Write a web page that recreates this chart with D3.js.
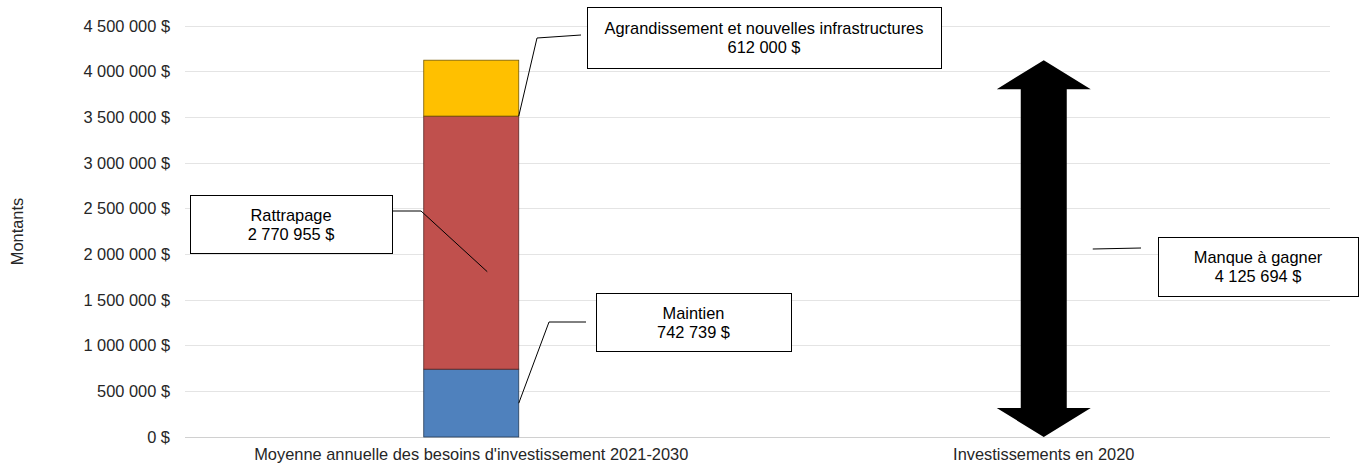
<!DOCTYPE html>
<html lang="fr">
<head>
<meta charset="utf-8" />
<title></title>
<script src="https://d3js.org/d3.v7.min.js"></script>
<style>
  body { margin: 0; background: #fff; }
  svg { display: block; font-family: "Liberation Sans", Arial, sans-serif; }
</style>
</head>
<body>
<script>
// data
var categories = ["Moyenne annuelle des besoins d'investissement 2021-2030", "Investissements en 2020"];
var segments = ["Maintien", "Rattrapage", "Agrandissement et nouvelles infrastructures"];
var segmentValues = [742739, 2770955, 612000];
var segmentColors = ["#4f81bd", "#c0504d", "#ffc000"];
var investissement2020 = 0;
var manque = 4125694;
var yTicks = [0, 500000, 1000000, 1500000, 2000000, 2500000, 3000000, 3500000, 4000000, 4500000];

var W = 1360, H = 468;
var margin = { left: 185, right: 30, top: 26, bottom: 31 };
var fs = 16.4;

var svg = d3.select("body").append("svg").attr("width", W).attr("height", H);

var x = d3.scaleBand().domain(categories).range([margin.left, W - margin.right]);
var y = d3.scaleLinear().domain([0, 4500000]).range([H - margin.bottom, margin.top]);

function fmt(v) { return d3.format(",")(v).replace(/,/g, " ") + " $"; }

// gridlines
svg.append("g").selectAll("line").data(yTicks).enter().append("line")
  .attr("x1", margin.left).attr("x2", W - margin.right)
  .attr("y1", function (d) { return y(d); }).attr("y2", function (d) { return y(d); })
  .attr("stroke", function (d) { return d === 0 ? "#d0d0d0" : "#e4e4e4"; })
  .attr("stroke-width", 1).attr("shape-rendering", "crispEdges");

// y axis labels
var yAxis = d3.axisLeft(y).tickValues(yTicks).tickFormat(fmt).tickSize(0).tickPadding(15);
var ga = svg.append("g").attr("transform", "translate(" + margin.left + ",0)").call(yAxis);
ga.select(".domain").remove();
ga.selectAll("text").attr("font-size", fs).attr("fill", "#262626").style("font-family", "Liberation Sans, Arial, sans-serif");

svg.append("text").attr("transform", "translate(23," + y(2250000) + ") rotate(-90)")
  .attr("text-anchor", "middle").attr("font-size", fs).attr("fill", "#262626").text("Montants");

// x labels
var xAxis = d3.axisBottom(x).tickSize(0).tickPadding(11);
var gx = svg.append("g").attr("transform", "translate(0," + y(0) + ")").call(xAxis);
gx.select(".domain").remove();
gx.selectAll("text").attr("font-size", fs).attr("fill", "#262626").style("font-family", "Liberation Sans, Arial, sans-serif");

// stacked bar
var barW = 95;
var cx0 = x(categories[0]) + x.bandwidth() / 2;
var stack = [];
var acc = 0;
segmentValues.forEach(function (v, i) { stack.push({ name: segments[i], v: v, y0: acc, y1: acc + v, c: segmentColors[i] }); acc += v; });

svg.append("g").selectAll("rect").data(stack).enter().append("rect")
  .attr("x", cx0 - barW / 2).attr("width", barW)
  .attr("y", function (d) { return y(d.y1); })
  .attr("height", function (d) { return y(d.y0) - y(d.y1); })
  .attr("fill", function (d) { return d.c; })
  .attr("stroke", function (d) { return d3.color(d.c).darker(2.2); })
  .attr("stroke-width", 0.8);

// double arrow for the gap
var cx1 = x(categories[1]) + x.bandwidth() / 2;
var yTop = y(investissement2020 + manque), yBot = y(investissement2020);
var headW = 47, shaftW = 23, headH = 29;
var arrowPts = [
  [cx1, yTop], [cx1 + headW, yTop + headH], [cx1 + shaftW, yTop + headH],
  [cx1 + shaftW, yBot - headH], [cx1 + headW, yBot - headH], [cx1, yBot],
  [cx1 - headW, yBot - headH], [cx1 - shaftW, yBot - headH], [cx1 - shaftW, yTop + headH],
  [cx1 - headW, yTop + headH]
];
svg.append("polygon").attr("points", arrowPts.map(function (p) { return p.join(","); }).join(" ")).attr("fill", "#000");

// callouts
var barR = cx0 + barW / 2;
var callouts = [
  { lines: [segments[2], fmt(segmentValues[2])], box: [587, 7, 354, 61],
    path: [[barR, y(stack[1].y1)], [537, 38], [581, 35]] },
  { lines: [segments[1], fmt(segmentValues[1])], box: [190, 195, 202, 58],
    path: [[392, 211], [421, 211], [cx0 + 16, y(1810000)]] },
  { lines: [segments[0], fmt(segmentValues[0])], box: [596, 293, 195, 58],
    path: [[586, 322], [549, 322], [barR, y(370000)]] },
  { lines: ["Manque à gagner", fmt(manque)], box: [1158, 237, 200, 59],
    path: [[cx1 + headW + 2, 249], [1141, 248]] }
];

var gc = svg.append("g");
callouts.forEach(function (c) {
  gc.append("polyline").attr("points", c.path.map(function (p) { return p.join(","); }).join(" "))
    .attr("fill", "none").attr("stroke", "#000").attr("stroke-width", 1);
  gc.append("rect").attr("x", c.box[0] + 0.5).attr("y", c.box[1] + 0.5).attr("width", c.box[2]).attr("height", c.box[3])
    .attr("fill", "#fff").attr("stroke", "#000").attr("stroke-width", 1);
  var cy = c.box[1] + c.box[3] / 2;
  c.lines.forEach(function (t, i) {
    gc.append("text").attr("x", c.box[0] + c.box[2] / 2).attr("y", cy + (i - 0.5) * 19 + 6)
      .attr("text-anchor", "middle").attr("font-size", fs).attr("fill", "#000").text(t);
  });
});
</script>
</body>
</html>
